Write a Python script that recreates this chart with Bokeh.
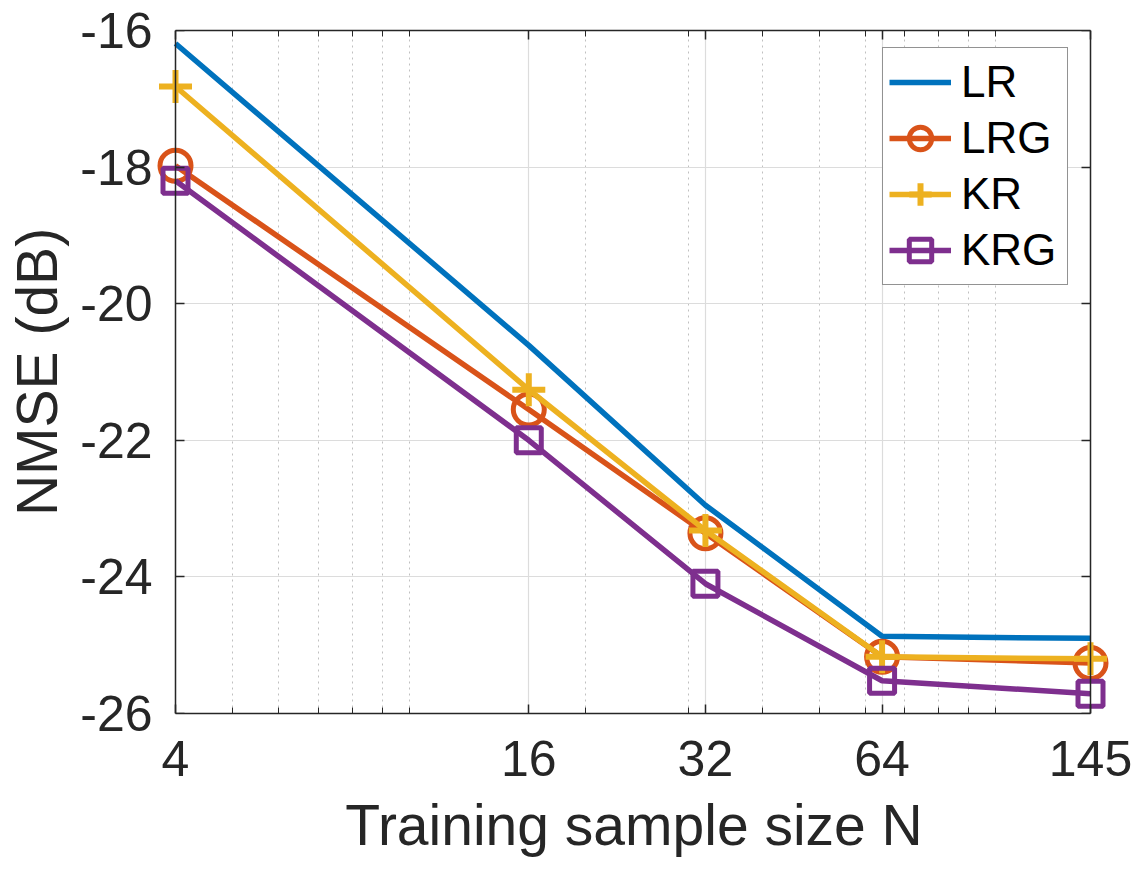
import math
from bokeh.plotting import figure
from bokeh.models import (FixedTicker, LinearAxis, LogAxis, CustomJSTickFormatter,
                          Range1d, Legend, LegendItem)
from bokeh.embed import file_html
from bokeh.resources import INLINE

# Training sample sizes and NMSE (dB) per method
sample_sizes = [4, 16, 32, 64, 145]
nmse_lr = [-16.19, -20.61, -22.95, -24.87, -24.90]
nmse_lrg = [-17.98, -21.55, -23.36, -25.17, -25.26]
nmse_kr = [-16.82, -21.26, -23.32, -25.17, -25.20]
nmse_krg = [-18.20, -22.00, -24.10, -25.52, -25.71]

x_ticks = [4, 16, 32, 64, 145]
x_minor = [5, 6, 7, 8, 9, 10, 20, 30, 40, 50, 60, 70, 80, 90, 100]
y_ticks = [-26, -24, -22, -20, -18, -16]
X_LO, X_HI = 4, 145
Y_LO, Y_HI = -26, -16

FONT = "Liberation Sans"
AX = "#262626"
C_LR, C_LRG, C_KR, C_KRG = "#0072BD", "#D95319", "#EDB120", "#7E2F8E"

# The axes box spans 915 px; the frame is widened a little on both sides so
# markers sitting on the box edges are not cut off.
BOX_W = 915
PAD_L, PAD_R = 20, 22
px_per_ln = BOX_W / math.log(X_HI / X_LO)
x_start = X_LO * math.exp(-PAD_L / px_per_ln)
x_end = X_HI * math.exp(PAD_R / px_per_ln)

LEFT = 175 - PAD_L
p = figure(width=1139, height=891, x_axis_type="log",
           x_range=Range1d(x_start, x_end), y_range=Range1d(Y_LO, Y_HI),
           output_backend="svg", toolbar_location=None,
           min_border_left=LEFT, min_border_right=1139 - 1090 - PAD_R,
           min_border_top=30, min_border_bottom=178)
p.background_fill_color = "white"
p.border_fill_color = "white"
p.outline_line_color = None

xt = FixedTicker(ticks=x_ticks, minor_ticks=x_minor)
yt = FixedTicker(ticks=y_ticks)
fmt = CustomJSTickFormatter(code="return tick.toFixed(0);")
blank = CustomJSTickFormatter(code="return '';")


def style_axis(ax, show_labels=True):
    ax.axis_line_color = AX
    ax.axis_line_width = 1.5
    ax.major_tick_line_color = AX
    ax.major_tick_line_width = 1.5
    ax.minor_tick_line_color = AX
    ax.minor_tick_line_width = 1
    ax.major_tick_in = 9
    ax.major_tick_out = 0
    ax.minor_tick_in = 6
    ax.minor_tick_out = 0
    ax.major_label_text_font = FONT
    ax.major_label_text_color = AX
    ax.axis_label_text_font = FONT
    ax.axis_label_text_color = AX
    ax.axis_label_text_font_style = "normal"
    if show_labels:
        ax.major_label_text_font_size = "50px"
        ax.axis_label_text_font_size = "57px"
    else:
        ax.formatter = blank
        ax.major_label_standoff = 0


# bottom axis: labels, line and inward ticks along the box bottom
xa = p.xaxis[0]
xa.ticker = xt
xa.formatter = fmt
xa.bounds = (X_LO, X_HI)
xa.axis_label = "Training sample size N"
style_axis(xa)
xa.major_label_standoff = 27
xa.axis_label_standoff = 14

# left axis: only the tick labels and the title
ya = p.yaxis[0]
ya.ticker = yt
ya.formatter = fmt
ya.axis_label = "NMSE (dB)"
style_axis(ya)
ya.axis_line_color = None
ya.major_tick_in = 0
ya.minor_tick_in = 0
ya.major_label_standoff = 3
ya.axis_label_standoff = 8

# box edges with inward ticks
top = LogAxis(ticker=xt, bounds=(X_LO, X_HI))
style_axis(top, show_labels=False)
p.add_layout(top, "above")

right = LinearAxis(ticker=yt, fixed_location=X_HI)
style_axis(right, show_labels=False)
right.minor_tick_in = 0
p.add_layout(right, "right")

left_edge = LinearAxis(ticker=yt, fixed_location=X_LO)
style_axis(left_edge, show_labels=False)
left_edge.major_tick_in = 0
left_edge.major_tick_out = 9
left_edge.minor_tick_in = 0
left_edge.minor_tick_out = 0
p.add_layout(left_edge, "right")

# grid: solid light major lines, dotted minor lines on the log axis
p.xgrid.ticker = xt
p.ygrid.ticker = yt
for g in (p.xgrid[0], p.ygrid[0]):
    g.grid_line_color = "#dcdcdc"
    g.grid_line_width = 1.2
p.ygrid[0].cross_bounds = (X_LO, X_HI)
p.xgrid.minor_grid_line_color = "#c0c0c0"
p.xgrid.minor_grid_line_dash = "2 4"
p.xgrid.minor_grid_line_width = 1

LW = 5.5
r_lr = p.line(sample_sizes, nmse_lr, line_color=C_LR, line_width=LW)

r_lrg = p.line(sample_sizes, nmse_lrg, line_color=C_LRG, line_width=LW)
m_lrg = p.scatter(sample_sizes, nmse_lrg, marker="circle", size=31,
                  fill_color=None, line_color=C_LRG, line_width=5)

r_kr = p.line(sample_sizes, nmse_kr, line_color=C_KR, line_width=LW)
m_kr = p.scatter(sample_sizes, nmse_kr, marker="cross", size=33,
                 line_color=C_KR, line_width=6)

r_krg = p.line(sample_sizes, nmse_krg, line_color=C_KRG, line_width=LW)
m_krg = p.scatter(sample_sizes, nmse_krg, marker="square", size=25,
                  fill_color=None, line_color=C_KRG, line_width=5)

legend = Legend(items=[
    LegendItem(label="LR", renderers=[r_lr]),
    LegendItem(label="LRG", renderers=[r_lrg, m_lrg]),
    LegendItem(label="KR", renderers=[r_kr, m_kr]),
    LegendItem(label="KRG", renderers=[r_krg, m_krg]),
], location=(882 - LEFT, 428))
legend.label_text_font = FONT
legend.label_text_font_size = "44px"
legend.label_text_color = "black"
legend.glyph_width = 62
legend.glyph_height = 56
legend.label_height = 56
legend.label_width = 100
legend.label_standoff = 10
legend.spacing = 0
legend.padding = 6
legend.margin = 0
legend.border_line_color = AX
legend.border_line_width = 1.5
legend.background_fill_color = "white"
legend.background_fill_alpha = 1
p.add_layout(legend, "center")

open("out.html", "w").write(file_html(p, INLINE))
